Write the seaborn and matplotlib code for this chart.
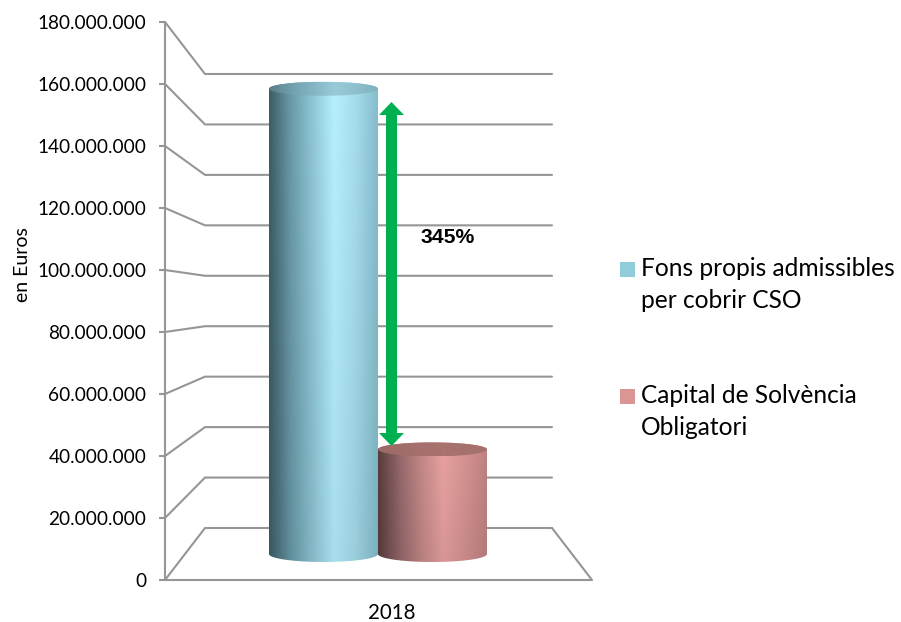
"""Cylinders chart: own funds vs. required capital"""

import numpy as np
import pandas as pd
import seaborn as sns
import matplotlib.pyplot as plt
from matplotlib.colors import LinearSegmentedColormap, to_rgb
from matplotlib.lines import Line2D
from matplotlib.patches import FancyArrow, PathPatch
from matplotlib.path import Path
from matplotlib.transforms import ScaledTranslation, IdentityTransform

# data
years = ["2018"]
series = ["Fons propis admissibles\nper cobrir CSO", "Capital de Solvència\nObligatori"]
values = [165500000, 37200000]
y_ticks = list(range(0, 180000001, 20000000))
y_title = "en Euros"
ratio_label = "345%"

LINE = "#969696"
SWATCH = ["#92CDDC", "#D99694"]
# colours across each cylinder, left to right
SHADES = [
    ["#3C5C66", "#6A9AA8", "#8FC6D6", "#B6F0FF", "#A6DCEB", "#84BDCC"],
    ["#5A3C3C", "#94686A", "#C48888", "#E8A2A0", "#D59392", "#C08280"],
]
# lid colour and how much of the side shading still shows on it
LIDS = [("#93C8D8", 0.6), ("#A5706C", 0.1)]

W, H = 901, 622
sns.set_theme(style="white")
plt.rcParams["font.family"] = ["Lato", "DejaVu Sans"]

fig = plt.figure(figsize=(W / 100, H / 100), dpi=100)
ax = fig.add_axes([165 / W, 1 - 580 / H, (592 - 165) / W, (580 - 22) / H])

# y axis is the front edge of the chart, x axis is one category
y_max = y_ticks[-1]
per_px = y_max / (580 - 22)
x_px = 218.0  # pixels per category unit
x_lim = ((165 - 378) / x_px, (592 - 378) / x_px)


def depth_y(v, d):
    # value v seen at depth d (0 front, 1 back wall)
    return d * 52 * per_px + v * (1 - d * (558 - 454) / 558)


df = pd.DataFrame({"year": years * 2, "serie": series, "value": values})
df["base"] = depth_y(0, 0.5)
df["top"] = depth_y(df["value"], 0.5)
df["height"] = df["top"] - df["base"]
sns.barplot(
    data=df,
    x="year",
    y="height",
    hue="serie",
    palette=SWATCH,
    bottom=df["base"].iloc[0],
    width=1.0,
    gap=0,
    saturation=1,
    legend=False,
    ax=ax,
)
ax.set_xlim(x_lim)
ax.set_ylim(0, y_max)

# walls
wall_l, wall_r = (205 - 378) / x_px, (552 - 378) / x_px
for v in y_ticks:
    ax.plot(
        [x_lim[0], wall_l, wall_r],
        [v, depth_y(v, 1), depth_y(v, 1)],
        color=LINE, lw=1.5, zorder=1, clip_on=False,
    )
ax.plot(
    [wall_r, x_lim[1], x_lim[0]],
    [depth_y(0, 1), 0, 0],
    color=LINE, lw=1.5, zorder=1, clip_on=False,
)

# turn the flat bars into shaded cylinders
cap = 7 * per_px
cap_low = 8 * per_px
t = np.linspace(0, np.pi, 60)
for bar, shades, (lid_col, lid_mix) in zip(list(ax.patches), SHADES, LIDS):
    x0, x1 = bar.get_x(), bar.get_x() + bar.get_width()
    y0, y1 = bar.get_y(), bar.get_y() + bar.get_height()
    xc, hw = (x0 + x1) / 2, (x1 - x0) / 2
    bar.set_visible(False)
    cmap = LinearSegmentedColormap.from_list("cyl", shades)
    grad = cmap(np.linspace(0, 1, 256))[:, :3]
    fade = np.linspace(1, 0.93, 64)[:, None, None]
    img = grad[None, :, :] * fade
    outline = np.r_[
        np.c_[xc - hw * np.cos(t), y0 - cap_low * np.sin(t)],
        np.c_[xc + hw * np.cos(t), y1 + cap * np.sin(t)],
    ]
    body = PathPatch(Path(outline), transform=ax.transData, fc="none", ec="none")
    ax.add_patch(body)
    im = ax.imshow(
        img, extent=[x0, x1, y0 - cap_low, y1 + cap], origin="upper",
        aspect="auto", zorder=3, interpolation="bilinear",
    )
    im.set_clip_path(body)
    # top of the cylinder
    lid = np.c_[xc + hw * np.cos(2 * t), y1 + cap * np.sin(2 * t)]
    lid_patch = PathPatch(Path(lid), transform=ax.transData, fc="none", ec="none")
    ax.add_patch(lid_patch)
    lid_img = lid_mix * img[:1] * 0.85 + (1 - lid_mix) * np.array(to_rgb(lid_col))
    im2 = ax.imshow(
        lid_img, extent=[x0, x1, y1 - cap, y1 + cap],
        aspect="auto", zorder=4, interpolation="bilinear",
    )
    im2.set_clip_path(lid_patch)
ax.set_xlim(x_lim)
ax.set_ylim(0, y_max)

# double arrow between the two tops
for y_from, y_to in [(274, 102), (274, 446)]:
    ax.add_patch(FancyArrow(
        391.5, H - y_from, 0, y_from - y_to, width=11, head_width=25, head_length=13,
        length_includes_head=True, color="#00B050", lw=0,
        transform=IdentityTransform(), zorder=6, clip_on=False,
    ))
fig.text(421 / W, 1 - 237 / H, ratio_label, fontsize=15.2, fontweight="bold",
         family="Liberation Sans", va="center", color="black")

# axes
sns.despine(ax=ax, left=True, bottom=True, top=True, right=True)
ax.set_yticks(y_ticks)
ax.set_yticklabels([f"{v:,}".replace(",", ".") for v in y_ticks], fontsize=13.7, color="black")
ax.tick_params(axis="y", left=True, length=4.5, width=1.5, color=LINE, pad=9)
ax.plot([0, 0], [0, 1], transform=ax.transAxes, color=LINE, lw=1.5, clip_on=False, zorder=2)
ax.set_xlabel("")
ax.set_ylabel("")
ax.tick_params(axis="x", bottom=False, labelsize=14.8, labelcolor="black", pad=10.5)
for lab in ax.get_xticklabels():
    lab.set_transform(lab.get_transform() + ScaledTranslation(14 / 100, 0, fig.dpi_scale_trans))
fig.text(22 / W, 1 - 265 / H, y_title, rotation=90, fontsize=14, va="center", ha="center",
         color="black")

handles = [Line2D([], [], ls="", marker="s", ms=10.8, mew=0, color=c) for c in SWATCH]
leg = ax.legend(
    handles, series, loc="center left", bbox_to_anchor=(592.7 / W, 1 - 348 / H),
    bbox_transform=fig.transFigure, frameon=False, fontsize=17.65, handlelength=1,
    handletextpad=0.07, labelspacing=2.9, labelcolor="black",
)
for txt in leg.get_texts():
    txt.set_linespacing(1.51)
# swatch sits beside the first line of its label
for h in leg.legend_handles:
    h.set_ydata(np.asarray(h.get_ydata()) + 12)

fig.savefig("out.png", dpi=100)
